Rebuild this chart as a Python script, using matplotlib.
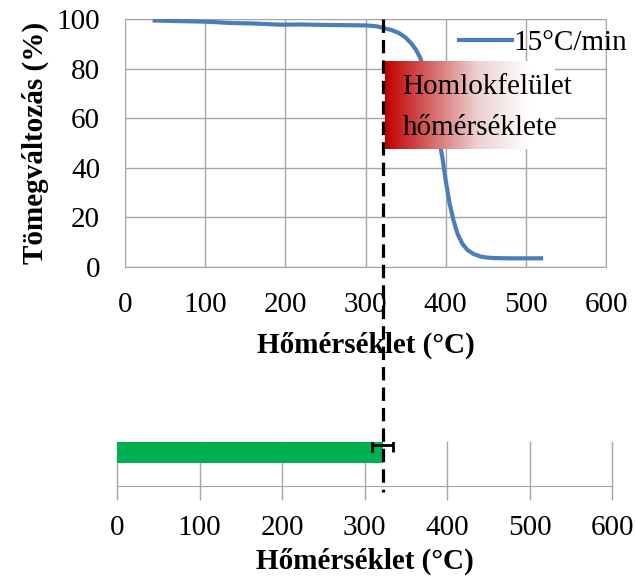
"""TGA mass-loss curve at 15 °C/min with the front-surface temperature bar below."""
import numpy as np
import matplotlib
matplotlib.use("Agg")
import matplotlib.pyplot as plt
from matplotlib.colors import LinearSegmentedColormap
from matplotlib.lines import Line2D

plt.rcParams["font.family"] = ["Liberation Serif", "DejaVu Serif"]

# TGA curve
temp_c = [37, 60, 90, 110, 130, 160, 195, 220, 250, 280, 302, 315, 323, 333, 342,
          350, 357, 363, 368, 373, 378, 383, 388, 392, 396, 400, 405, 410, 415, 421,
          427, 435, 444, 452, 460, 480, 500, 519]
mass_pct = [99.4, 99.2, 99.0, 98.8, 98.4, 98.2, 97.7, 97.8, 97.6, 97.5, 97.4, 97.0,
            96.3, 95.5, 94.3, 92.5, 90.2, 87.6, 84.5, 80.0, 74.0, 66.0, 57.5, 51.0,
            44.0, 35.0, 25.5, 18.5, 13.2, 9.3, 6.9, 5.2, 4.2, 3.8, 3.6, 3.5, 3.5, 3.5]
series_label = "15°C/min"

# front-surface temperature (bar) with its spread
front_temp = 322
front_err = 13
front_line = 322
box_text = "Homlokfelület\nhőmérséklete"
x_label = "Hőmérséklet (°C)"
y_label = "Tömegváltozás (%)"

W, H = 636, 579
FS = 21
fig = plt.figure(figsize=(W / 100, H / 100), dpi=100)

grid_gray = "#a6a6a6"

# --- top: TGA curve ---
ax = fig.add_axes([125 / W, 1 - 267 / H, 481 / W, 248 / H])
ax.plot(temp_c, mass_pct, color="#4a7ebb", lw=3.0, label=series_label, zorder=3)
ax.set_xticks(range(0, 601, 100))
ax.set_yticks(range(0, 101, 20))
ax.grid(True, color=grid_gray, lw=1.0)
ax.set_axisbelow(True)
for s in ax.spines.values():
    s.set_color(grid_gray)
ax.tick_params(axis="x", length=0, pad=18, labelsize=FS)
ax.tick_params(axis="y", length=0, pad=18, labelsize=FS)
ax.set_xlabel(x_label, fontsize=FS, fontweight="bold", labelpad=10)
ax.set_ylabel(y_label, fontsize=FS, fontweight="bold", labelpad=5)
ax.legend(loc="center left", bbox_to_anchor=(0.695, 0.905), frameon=False,
          fontsize=FS, handlelength=1.8, handletextpad=0.05, borderpad=0,
          borderaxespad=0)

# gradient label box (red fading to white), drawn over the curve
x0, x1, y0, y1 = 324, 535, 47.6, 83
grad = np.linspace(0, 1, 256).reshape(1, -1)
cmap = LinearSegmentedColormap.from_list(
    "redfade", [(0, "#c00000"), (0.55, "#edd2d2"), (0.85, "#ffffff"), (1, "#ffffff")])
ax.imshow(grad, extent=[x0, x1, y0, y1], aspect="auto", cmap=cmap, zorder=4)
ax.text(x0 + 22, (y0 + y1) / 2 - 0.8, box_text, fontsize=FS, va="center", ha="left",
        linespacing=1.75, zorder=5)
ax.set_xlim(0, 600)
ax.set_ylim(0, 100)

# --- bottom: front-surface temperature bar ---
bx = fig.add_axes([117 / W, 1 - 486 / H, 495 / W, 44 / H])
bx.barh([0.76], [front_temp], height=0.48, color="#00b050", zorder=2)
bx.errorbar([front_temp], [0.93], xerr=[front_err], fmt="none", ecolor="black",
            elinewidth=2.0, capsize=5, capthick=2.0, zorder=3)
bx.set_xlim(0, 600)
bx.set_ylim(0, 1)
bx.set_xticks(range(0, 601, 100))
bx.set_yticks([])
bx.grid(True, axis="x", color=grid_gray, lw=1.0)
for gl in bx.get_xgridlines():
    gl.set_clip_on(False)
bx.set_axisbelow(True)
for k in ("top", "left", "right"):
    bx.spines[k].set_visible(False)
bx.spines["bottom"].set_color(grid_gray)
bx.tick_params(axis="x", length=10, width=1.0, color=grid_gray, pad=11, labelsize=FS)
bx.set_xlabel(x_label, fontsize=FS, fontweight="bold", labelpad=5)

# dashed line through both panels at the front-surface temperature
xf = (125 + front_line / 600 * 481) / W
fig.add_artist(Line2D([xf, xf], [1 - 19 / H, 1 - 492 / H], transform=fig.transFigure,
                      color="black", lw=2.3, ls=(0, (4.2, 2.2)), zorder=10))

fig.savefig("out.png", dpi=100)
